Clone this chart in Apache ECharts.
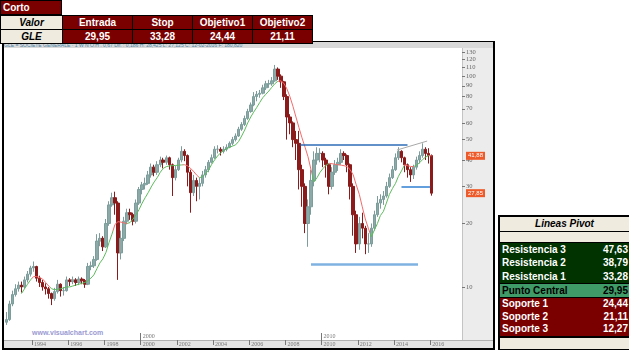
<!DOCTYPE html>
<html lang="es">
<head>
<meta charset="UTF-8">
<title>GLE - Corto</title>
<script src="https://cdn.jsdelivr.net/npm/echarts@6/dist/echarts.min.js"></script>
<style>
    body { margin:0; width:629px; height:353px; background:#fff; position:relative; overflow:hidden;
           font-family:"Liberation Sans", Arial, sans-serif; }
    .abs { position:absolute; }
    .frame { left:2px; top:41px; width:489px; height:306px; border:2px solid #000; border-top-width:1px; background:#fff; }
    .hdr { left:4px; top:42px; width:489px; height:6px; background:#d9d9d9; font-size:5px; line-height:6px;
           color:#4b86a8; white-space:nowrap; overflow:hidden; }
    .rpanel { left:462px; top:48px; width:31px; height:292px; background:#ececec; border-left:1px solid #c4c4c4; box-sizing:border-box; }
    .bstrip { left:4px; top:340px; width:489px; height:8px; background:#e4e4e4; border-top:1px solid #b0b0b0; box-sizing:border-box; }
    .wm { left:32px; top:329px; font-size:7px; font-weight:bold; color:#9a9ad2; }
    .red { background:#7a0000; color:#fff; }
    .beige { background:#efebdf; color:#000; font-style:italic; }
    .tgrid { display:grid; grid-template-columns:61px 69px 59px 59px 59px; grid-template-rows:13px 13px;
             gap:1px; padding:1px; background:#000; }
    .tgrid div, .corto div { font-size:10px; font-weight:bold; line-height:13px; text-align:center; }
    .pivot { left:498px; top:215px; width:131px; height:135px; background:#000; padding:2px 0 1px 2px;
             box-sizing:border-box; display:flex; flex-direction:column; }
    .pivot .row { display:flex; justify-content:space-between; padding:0 1px 0 2px; font-size:10px;
                  font-weight:bold; }
    .gblk { background:#003300; color:#fff; }
    .pc { background:#3f9b68; color:#000; }
</style>
</head>
<body>
<div class="abs frame"></div>
<div class="abs hdr" id="hdr"></div>
<div class="abs rpanel"></div>
<div class="abs bstrip"></div>
<div class="abs wm">www.visualchart.com</div>

<div class="abs corto" style="left:0;top:0;width:62px;height:15px;background:#000;padding:1px;box-sizing:border-box;">
    <div class="red" style="height:13px;text-align:left;padding-left:2px;">Corto</div>
</div>
<div class="abs tgrid" style="left:0;top:15px;" id="orden"></div>

<div class="abs pivot" id="pivot"></div>

<div id="chart" class="abs" style="left:0;top:0;width:629px;height:353px;z-index:5;"></div>

<script type="text/javascript">
    // weekly-ish chart of GLE read every two months, starting Aug 1992
    var startYear = 1992, startMonth = 7;

    var open = [
        6.8, 7.0, 8.3,
        9.2, 9.8, 10.2, 10.0, 10.8, 11.5,
        12.3, 12.5, 11.0, 10.5, 10.0, 9.8,
        9.3, 8.8, 9.5, 10.3, 9.6, 9.6,
        10.8, 10.6, 10.8, 10.5, 10.9, 10.7,
        10.3, 12.5, 12.6, 13.5, 16.5, 17.0,
        15.5, 20.0, 24.5, 26.5, 25.0, 14.5,
        17.0, 20.5, 22.5, 22.0, 20.5, 25.0,
        29.0, 30.5, 31.0, 34.0, 37.0, 35.0,
        38.0, 40.0, 39.0, 41.0, 38.0, 33.0,
        36.0, 40.0, 44.0, 42.0, 35.0, 28.0,
        32.0, 30.0, 31.0, 34.0, 36.0, 39.0,
        41.0, 45.0, 45.0, 44.0, 45.0, 46.0,
        48.0, 50.0, 52.0, 56.0, 59.0, 63.0,
        68.0, 73.0, 80.0, 82.0, 83.0, 88.0,
        92.0, 92.0, 95.0, 108.0, 100.0, 94.0,
        80.0, 64.0, 60.0, 50.0, 48.0, 36.0,
        30.0, 20.0, 24.0, 32.0, 40.0, 43.0,
        43.0, 40.0, 38.0, 30.0, 35.0, 38.0,
        39.0, 43.0, 42.0, 38.0, 30.0, 22.0,
        16.0, 20.0, 19.0, 16.0, 16.0, 19.0,
        22.0, 25.0, 26.0, 27.0, 30.0, 33.0,
        36.0, 41.0, 44.0, 41.0, 38.0, 36.0,
        34.0, 37.0, 40.0, 42.0, 45.0, 43.0,
        42.0
    ];
    var close = [
        7.0, 8.3, 9.2,
        9.8, 10.2, 10.0, 10.8, 11.5, 12.3,
        12.5, 11.0, 10.5, 10.0, 9.8, 9.3,
        8.8, 9.5, 10.3, 9.6, 9.6, 10.8,
        10.6, 10.8, 10.5, 10.9, 10.7, 10.3,
        12.5, 12.6, 13.5, 16.5, 17.0, 15.5,
        20.0, 24.5, 26.5, 25.0, 14.5, 17.0,
        20.5, 22.5, 22.0, 20.5, 25.0, 29.0,
        30.5, 31.0, 34.0, 37.0, 35.0, 38.0,
        40.0, 39.0, 41.0, 38.0, 33.0, 36.0,
        40.0, 44.0, 42.0, 35.0, 28.0, 32.0,
        30.0, 31.0, 34.0, 36.0, 39.0, 41.0,
        45.0, 45.0, 44.0, 45.0, 46.0, 48.0,
        50.0, 52.0, 56.0, 59.0, 63.0, 68.0,
        73.0, 80.0, 82.0, 83.0, 88.0, 92.0,
        92.0, 95.0, 108.0, 100.0, 94.0, 80.0,
        64.0, 60.0, 50.0, 48.0, 36.0, 30.0,
        20.0, 24.0, 32.0, 40.0, 43.0, 43.0,
        40.0, 38.0, 30.0, 35.0, 38.0, 39.0,
        43.0, 42.0, 38.0, 30.0, 22.0, 16.0,
        20.0, 19.0, 16.0, 16.0, 19.0, 22.0,
        25.0, 26.0, 27.0, 30.0, 33.0, 36.0,
        41.0, 44.0, 41.0, 38.0, 36.0, 34.0,
        37.0, 40.0, 42.0, 45.0, 43.0, 42.0,
        27.85
    ];
    var high = [
        7.6, 8.6, 9.6,
        10.3, 10.6, 10.6, 11.2, 11.9, 12.6,
        13.2, 12.6, 11.3, 10.8, 10.4, 10.0,
        9.4, 9.9, 10.8, 10.4, 10.0, 11.2,
        11.0, 11.2, 11.0, 11.2, 11.1, 10.9,
        13.0, 13.2, 14.0, 17.8, 18.0, 17.4,
        21.0, 25.5, 28.0, 28.3, 25.5, 18.5,
        21.5, 23.5, 23.5, 22.5, 26.0, 29.8,
        31.5, 33.0, 35.5, 38.5, 38.0, 39.5,
        41.5, 41.0, 42.0, 41.5, 38.5, 37.5,
        41.0, 46.5, 45.0, 42.5, 36.0, 34.0,
        33.0, 33.0, 35.5, 37.5, 40.0, 42.5,
        46.5, 47.0, 46.0, 46.5, 47.5, 49.0,
        51.5, 53.5, 57.5, 60.5, 65.0, 70.0,
        75.0, 84.0, 85.0, 86.0, 91.0, 95.0,
        96.0, 99.0, 113.0, 110.0, 102.0, 95.0,
        82.0, 66.0, 61.0, 55.0, 55.0, 38.0,
        31.0, 26.0, 36.0, 44.0, 46.0, 45.5,
        44.0, 41.0, 38.5, 37.0, 40.0, 41.0,
        45.0, 44.0, 42.5, 38.5, 31.0, 23.0,
        21.5, 22.5, 19.5, 18.0, 20.0, 23.0,
        27.0, 27.5, 28.5, 31.5, 34.5, 37.5,
        43.0, 46.0, 44.5, 41.5, 38.5, 37.0,
        38.0, 41.5, 44.0, 48.0, 46.0, 45.5,
        42.5
    ];
    var low = [
        6.6, 6.9, 8.1,
        9.0, 9.5, 9.4, 9.8, 10.5, 11.2,
        11.8, 10.6, 10.0, 9.6, 9.2, 8.8,
        8.2, 8.6, 9.3, 9.0, 9.1, 9.5,
        10.1, 10.3, 10.1, 10.2, 10.3, 9.9,
        10.2, 12.0, 12.3, 13.3, 15.6, 14.8,
        15.3, 19.5, 24.0, 22.0, 10.8, 13.5,
        16.5, 19.8, 20.8, 19.6, 20.0, 24.5,
        27.5, 29.0, 30.5, 33.0, 33.5, 34.0,
        37.0, 36.5, 38.0, 36.0, 27.0, 32.0,
        35.5, 39.0, 39.5, 30.0, 22.5, 27.0,
        25.5, 26.0, 30.0, 33.0, 35.0, 38.5,
        40.5, 43.0, 42.0, 43.0, 44.0, 45.5,
        47.0, 49.0, 51.5, 55.0, 58.0, 62.0,
        67.0, 72.0, 76.0, 79.0, 82.0, 86.0,
        88.0, 90.0, 94.0, 96.0, 88.0, 77.0,
        50.0, 53.0, 46.0, 40.0, 29.0, 24.0,
        18.0, 15.5, 22.0, 30.0, 38.0, 39.0,
        37.0, 33.0, 27.5, 29.0, 34.0, 35.5,
        38.0, 40.0, 35.0, 26.0, 17.5, 14.5,
        15.0, 17.0, 14.3, 14.5, 15.5, 18.5,
        21.5, 23.5, 24.5, 26.5, 29.5, 32.5,
        35.5, 40.0, 39.0, 35.0, 33.0, 31.5,
        32.5, 36.0, 38.5, 41.0, 40.0, 38.5,
        27.1
    ];
    // moving average as drawn (red where it falls, green where it rises)
    var ma = [
        null, null, null,
        null, null, 9.3, 9.8, 10.3, 10.8,
        11.2, 11.2, 11.1, 10.9, 10.5, 10.1,
        9.8, 9.7, 9.75, 9.8, 9.9, 10.0,
        10.0, 10.1, 10.2, 10.3, 10.4, 10.5,
        10.7, 11.0, 11.4, 12.2, 13.0, 13.6,
        14.6, 16.2, 17.8, 19.8, 20.4, 20.3,
        20.1, 20.0, 20.2, 21.0, 22.0, 23.3,
        25.0, 26.5, 28.0, 29.8, 31.5, 33.0,
        35.0, 36.5, 37.2, 37.5, 37.6, 37.7,
        37.8, 37.9, 38.0, 37.6, 36.6, 35.4,
        34.0, 33.0, 33.3, 34.4, 35.8, 38.0,
        40.0, 41.8, 43.2, 44.3, 45.2, 46.0,
        46.6, 47.2, 49.0, 52.0, 55.5, 60.0,
        64.0, 67.5, 71.0, 75.0, 79.0, 82.0,
        85.0, 88.5, 92.0, 94.5, 95.0, 92.5,
        87.0, 80.0, 72.0, 64.0, 57.0, 51.0,
        46.0, 41.5, 36.0, 31.5, 33.0, 35.0,
        36.5, 37.8, 38.6, 38.4, 38.2, 38.0,
        37.8, 37.6, 37.2, 36.0, 34.0, 30.5,
        27.5, 24.0, 21.0, 19.0, 17.3, 18.6,
        20.0, 21.8, 22.8, 25.0, 27.5, 29.3,
        31.0, 33.5, 35.5, 37.9, 37.6, 37.3,
        37.2, 37.8, 38.8, 40.2, 41.3, 42.0,
        41.88
    ];
    var maFalling = [
        ['1994-01', '1995-01'], ['1998-07', '1999-04'], ['2002-05', '2003-04'],
        ['2007-08', '2009-07'], ['2010-06', '2012-09'], ['2014-08', '2015-02'],
        ['2015-12', '2016-03']
    ];

    // lines drawn on the chart
    var resistLine = [['2008-11', 47.1], ['2014-10', 47.1]];
    var trendLine = [['2014-03', 44.6], ['2015-11', 49.2]];
    var entryLine = [['2014-06', 29.95], ['2016-01', 29.95]];
    var supportLine = [['2009-06', 12.85], ['2015-05', 12.85]];

    var yearTicks = [1994, 1996, 1998, 2000, 2002, 2004, 2006, 2008, 2010, 2012, 2014, 2016];
    var decadeTicks = [2000, 2010];
    var priceTicks = [10, 20, 30, 40, 50, 60, 70, 80, 90, 100, 110, 120, 130];

    var ordenHead = ['Valor', 'Entrada', 'Stop', 'Objetivo1', 'Objetivo2'];
    var ordenRow = ['GLE', '29,95', '33,28', '24,44', '21,11'];

    var pivotNames = ['Resistencia 3', 'Resistencia 2', 'Resistencia 1', 'Punto Central', 'Soporte 1', 'Soporte 2', 'Soporte 3'];
    var pivotValues = ['47,63', '38,79', '33,28', '29,95', '24,44', '21,11', '12,27'];

    document.getElementById('hdr').textContent =
        'GLE = SOCIETE GENERALE \u00b7 1 W N O:H . 0,67 Dif. : 0,186 H: 28,425 L: 27,125 C: 12-02-2016 F: 180,820';

    // tables
    var orden = document.getElementById('orden');
    ordenHead.concat(ordenRow).forEach(function (t, i) {
        var d = document.createElement('div');
        d.className = (i % 5 === 0) ? 'beige' : 'red';
        d.textContent = t;
        orden.appendChild(d);
    });

    var pivot = document.getElementById('pivot');
    var html = '';
    html += '<div class="beige" style="height:14px;line-height:14px;text-align:center;font-size:10px;font-weight:bold;">Lineas Pivot</div>';
    html += '<div style="height:1px"></div><div class="beige" style="height:10px"></div><div style="height:1px"></div>';
    html += '<div class="gblk" style="height:40px;">';
    for (var i = 0; i < 3; i++) {
        html += '<div class="row" style="height:13.3px;line-height:13.3px;"><span>' + pivotNames[i] + '</span><span>' + pivotValues[i] + '</span></div>';
    }
    html += '</div><div style="height:1px"></div>';
    html += '<div class="pc row" style="height:13px;line-height:13px;"><span>' + pivotNames[3] + '</span><span>' + pivotValues[3] + '</span></div>';
    html += '<div style="height:1px"></div><div class="red" style="height:38px;">';
    for (var j = 4; j < 7; j++) {
        html += '<div class="row" style="height:12.6px;line-height:12.6px;"><span>' + pivotNames[j] + '</span><span>' + pivotValues[j] + '</span></div>';
    }
    html += '</div><div style="height:2px"></div><div class="beige" style="height:11px"></div>';
    pivot.innerHTML = html;

    // chart (x is a timestamp on a value axis)
    function barTime(i) { return Date.UTC(startYear, startMonth + 2 * i, 1); }
    function ym(s) { var p = s.split('-'); return Date.UTC(+p[0], +p[1] - 1, 1); }
    function jan(y) { return Date.UTC(y, 0, 1); }
    function yearOf(v) { return String(new Date(v + 864000000).getUTCFullYear()); }
    function comma(v) { return v.toFixed(2).replace('.', ','); }

    var candles = close.map(function (c, i) { return [barTime(i), open[i], c, low[i], high[i]]; });
    var maData = ma.map(function (v, i) { return [barTime(i), v]; });
    var last = close.length - 1;

    function styled(line, color, width) {
        return [
            { coord: [ym(line[0][0]), line[0][1]], lineStyle: { color: color, width: width, type: 'solid' }, label: { show: false } },
            { coord: [ym(line[1][0]), line[1][1]] }
        ];
    }
    function priceTag(v) {
        return {
            yAxis: v, lineStyle: { color: 'rgba(0,0,0,0)', width: 1, opacity: 1 },
            label: { show: true, position: 'end', distance: 4, formatter: comma(v), opacity: 1,
                     backgroundColor: '#ee5a2a', color: '#fff', fontSize: 6, padding: [1, 2] }
        };
    }

    var tMin = Date.UTC(1992, 6, 3), tMax = Date.UTC(2017, 9, 5);
    var labelCommon = { fontSize: 6, color: '#777', align: 'left', margin: 1, padding: [0, 0, 0, 2],
                        fontFamily: 'Liberation Sans Narrow', formatter: yearOf };

    var mychart = echarts.init(document.getElementById('chart'));
    var option = {
        animation: false,
        backgroundColor: 'transparent',
        grid: { left: 5, right: 167, top: 48, bottom: 13, outerBoundsMode: 'none' },
        xAxis: [{
            type: 'value', min: tMin, max: tMax,
            axisLine: { show: false },
            splitLine: { show: false },
            axisTick: { show: true, customValues: yearTicks.map(jan), length: 5, lineStyle: { color: '#777' } },
            axisLabel: Object.assign({ customValues: yearTicks.map(jan) }, labelCommon)
        }, {
            type: 'value', min: tMin, max: tMax, position: 'bottom',
            axisLine: { show: false },
            splitLine: { show: false },
            axisTick: { show: true, inside: true, customValues: decadeTicks.map(jan), length: 7, lineStyle: { color: '#777' } },
            axisLabel: Object.assign({ customValues: decadeTicks.map(jan), inside: true }, labelCommon)
        }],
        yAxis: {
            type: 'log', logBase: 10, min: 5.6, max: 136, position: 'right',
            axisLine: { show: false },
            splitLine: { show: false },
            axisTick: { show: true, customValues: priceTicks, length: 3, lineStyle: { color: '#777' } },
            axisLabel: {
                customValues: priceTicks, fontSize: 6.5, color: '#666', margin: 4,
                fontFamily: 'Liberation Sans Narrow',
                formatter: function (v) { return String(Math.round(v)); }
            }
        },
        visualMap: {
            show: false, type: 'piecewise', seriesIndex: 1, dimension: 0,
            pieces: maFalling.map(function (s) { return { gte: ym(s[0]), lte: ym(s[1]), color: '#f26b6b' }; }),
            outOfRange: { color: '#5cbb5c' }
        },
        series: [{
            type: 'candlestick',
            data: candles,
            barWidth: 3,
            z: 2,
            itemStyle: { color: '#8aa9a7', color0: '#8b1a1a', borderColor: '#7c9d9b', borderColor0: '#8b1a1a', borderWidth: 1 },
            markLine: {
                silent: true, symbol: 'none', animation: false,
                data: [
                    styled(resistLine, '#2e6db8', 1.5),
                    styled(trendLine, '#a8a8a8', 1),
                    styled(entryLine, '#2f7fd0', 1.5),
                    styled(supportLine, '#7fb2e0', 2.5)
                ]
            }
        }, {
            type: 'line',
            data: maData,
            showSymbol: false,
            z: 3,
            lineStyle: { width: 1 }
        }, {
            // price tags on the right axis
            type: 'line',
            data: [],
            markLine: {
                silent: true, symbol: 'none', animation: false,
                data: [priceTag(ma[last]), priceTag(close[last])]
            }
        }]
    };
    mychart.setOption(option, true);
</script>
</body>
</html>
